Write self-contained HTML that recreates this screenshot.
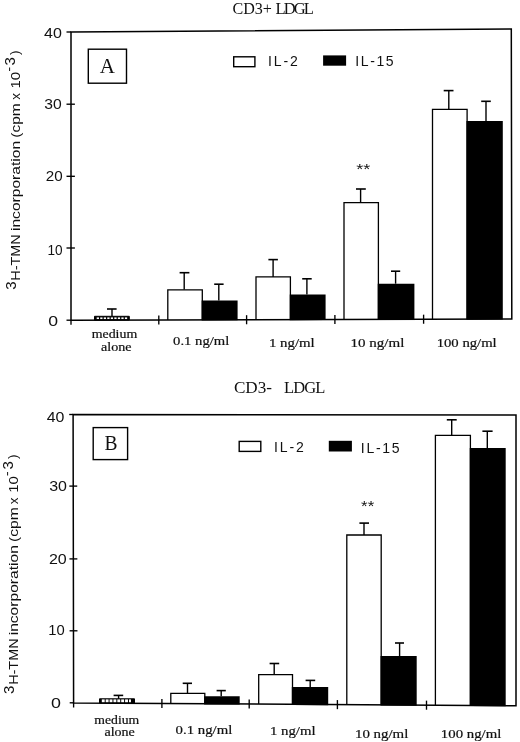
<!DOCTYPE html>
<html lang="en"><head><meta charset="utf-8"><title>CD3+ LDGL / CD3- LDGL</title>
<style>
html,body{margin:0;padding:0;background:#fff;}
svg{display:block;}
.sans{font-family:"Liberation Sans","DejaVu Sans",sans-serif;fill:#111;}
.serif{font-family:"Liberation Serif","DejaVu Serif",serif;fill:#111;}
</style></head>
<body>
<svg width="520" height="742" viewBox="0 0 520 742">
<rect width="520" height="742" fill="#fff"/>
<line x1="112" y1="309" x2="112" y2="316.3" stroke="#000" stroke-width="1.4" />
<line x1="107" y1="309" x2="116.6" y2="309" stroke="#000" stroke-width="1.6" />
<polygon points="94.5,316.3 129.3,316.3 129.3,320.0280626134301 94.5,320.13069419237746" fill="#000" stroke="#000" stroke-width="1"/>
<rect x="96.70" y="317.40" width="2.30" height="1.70" fill="#fff"/>
<rect x="100.22" y="317.40" width="2.30" height="1.70" fill="#fff"/>
<rect x="103.74" y="317.40" width="2.30" height="1.70" fill="#fff"/>
<rect x="107.26" y="317.40" width="2.30" height="1.70" fill="#fff"/>
<rect x="110.78" y="317.40" width="2.30" height="1.70" fill="#fff"/>
<rect x="114.30" y="317.40" width="2.30" height="1.70" fill="#fff"/>
<rect x="117.82" y="317.40" width="2.30" height="1.70" fill="#fff"/>
<rect x="121.34" y="317.40" width="2.30" height="1.70" fill="#fff"/>
<rect x="124.86" y="317.40" width="2.30" height="1.70" fill="#fff"/>
<line x1="184.2" y1="272.7" x2="184.2" y2="289.8" stroke="#000" stroke-width="1.4" />
<line x1="179.6" y1="272.7" x2="189.4" y2="272.7" stroke="#000" stroke-width="1.6" />
<polyline points="167.8,319.91 167.8,289.8 202.3,289.8 202.3,319.81" fill="#fff" stroke="#000" stroke-width="1.3" stroke-linejoin="miter"/>
<line x1="218.8" y1="284.2" x2="218.8" y2="300.4" stroke="#000" stroke-width="1.4" />
<line x1="214.2" y1="284.2" x2="223.6" y2="284.2" stroke="#000" stroke-width="1.6" />
<polygon points="201.65,320.46 201.65,300.4 237.6,300.4 237.6,320.36" fill="#000"/>
<line x1="273.1" y1="259.6" x2="273.1" y2="276.9" stroke="#000" stroke-width="1.4" />
<line x1="268.4" y1="259.6" x2="277.9" y2="259.6" stroke="#000" stroke-width="1.6" />
<polyline points="256,319.65 256,276.9 290.4,276.9 290.4,319.55" fill="#fff" stroke="#000" stroke-width="1.3" stroke-linejoin="miter"/>
<line x1="306.9" y1="278.8" x2="306.9" y2="294.6" stroke="#000" stroke-width="1.4" />
<line x1="302.2" y1="278.8" x2="311.7" y2="278.8" stroke="#000" stroke-width="1.6" />
<polygon points="289.75,320.20 289.75,294.6 325.6,294.6 325.6,320.10" fill="#000"/>
<line x1="360.6" y1="189" x2="360.6" y2="202.7" stroke="#000" stroke-width="1.4" />
<line x1="356" y1="189" x2="365.8" y2="189" stroke="#000" stroke-width="1.6" />
<polyline points="344,319.39 344,202.7 378.4,202.7 378.4,319.29" fill="#fff" stroke="#000" stroke-width="1.3" stroke-linejoin="miter"/>
<line x1="395.6" y1="271.2" x2="395.6" y2="283.7" stroke="#000" stroke-width="1.4" />
<line x1="391" y1="271.2" x2="400.2" y2="271.2" stroke="#000" stroke-width="1.6" />
<polygon points="377.75,319.94 377.75,283.7 414.4,283.7 414.4,319.84" fill="#000"/>
<line x1="448.8" y1="90.6" x2="448.8" y2="109.4" stroke="#000" stroke-width="1.4" />
<line x1="443.7" y1="90.6" x2="453.5" y2="90.6" stroke="#000" stroke-width="1.6" />
<polyline points="432.5,319.13 432.5,109.4 467.1,109.4 467.1,319.03" fill="#fff" stroke="#000" stroke-width="1.3" stroke-linejoin="miter"/>
<line x1="486" y1="101.3" x2="486" y2="121" stroke="#000" stroke-width="1.4" />
<line x1="481.2" y1="101.3" x2="490.8" y2="101.3" stroke="#000" stroke-width="1.6" />
<polygon points="466.45,319.68 466.45,121 502.8,121 502.8,319.58" fill="#000"/>
<polygon points="71,32 511.3,29.1 511.8,318.9 71,320.2" fill="none" stroke="#000" stroke-width="1.5"/>
<line x1="66.5" y1="32" x2="71.0" y2="32" stroke="#000" stroke-width="1.35" />
<line x1="66.5" y1="104.2" x2="74.9" y2="104.2" stroke="#000" stroke-width="1.35" />
<line x1="66.5" y1="176.3" x2="74.9" y2="176.3" stroke="#000" stroke-width="1.35" />
<line x1="66.5" y1="248.0" x2="74.9" y2="248.0" stroke="#000" stroke-width="1.35" />
<line x1="66.5" y1="320.2" x2="71.0" y2="320.2" stroke="#000" stroke-width="1.35" />
<line x1="158.8" y1="315.4410617059891" x2="158.8" y2="324.54106170598914" stroke="#000" stroke-width="1.35" />
<line x1="246.6" y1="315.1821234119782" x2="246.6" y2="324.2821234119782" stroke="#000" stroke-width="1.35" />
<line x1="334.9" y1="314.9217105263158" x2="334.9" y2="324.0217105263158" stroke="#000" stroke-width="1.35" />
<line x1="423.6" y1="314.6601179673321" x2="423.6" y2="323.7601179673321" stroke="#000" stroke-width="1.35" />
<line x1="71" y1="320.2" x2="71" y2="324.8" stroke="#000" stroke-width="1.35" />
<line x1="118.6" y1="695.4" x2="118.6" y2="698.8" stroke="#000" stroke-width="1.4" />
<line x1="113.6" y1="695.4" x2="123.2" y2="695.4" stroke="#000" stroke-width="1.6" />
<polygon points="99.5,698.8 134.5,698.8 134.5,703.2854430379747 99.5,703.0639240506329" fill="#000" stroke="#000" stroke-width="1"/>
<rect x="101.80" y="699.40" width="2.90" height="3.00" fill="#fff"/>
<rect x="105.68" y="699.40" width="2.90" height="3.00" fill="#fff"/>
<rect x="109.56" y="699.40" width="2.90" height="3.00" fill="#fff"/>
<rect x="113.44" y="699.40" width="2.90" height="3.00" fill="#fff"/>
<rect x="117.32" y="699.40" width="2.90" height="3.00" fill="#fff"/>
<rect x="121.20" y="699.40" width="2.90" height="3.00" fill="#fff"/>
<rect x="125.08" y="699.40" width="2.90" height="3.00" fill="#fff"/>
<rect x="128.96" y="699.40" width="2.00" height="3.00" fill="#fff"/>
<line x1="187.5" y1="683.3" x2="187.5" y2="693.3" stroke="#000" stroke-width="1.4" />
<line x1="182.7" y1="683.3" x2="192" y2="683.3" stroke="#000" stroke-width="1.6" />
<polyline points="170.8,703.52 170.8,693.3 204.8,693.3 204.8,703.73" fill="#fff" stroke="#000" stroke-width="1.3" stroke-linejoin="miter"/>
<line x1="221.2" y1="690.6" x2="221.2" y2="696.3" stroke="#000" stroke-width="1.4" />
<line x1="216.6" y1="690.6" x2="225.8" y2="690.6" stroke="#000" stroke-width="1.6" />
<polygon points="204.15,704.38 204.15,696.3 239.7,696.3 239.7,704.60" fill="#000"/>
<line x1="274.2" y1="663.5" x2="274.2" y2="674.6" stroke="#000" stroke-width="1.4" />
<line x1="269.6" y1="663.5" x2="279.2" y2="663.5" stroke="#000" stroke-width="1.6" />
<polyline points="258.7,704.07 258.7,674.6 292.5,674.6 292.5,704.29" fill="#fff" stroke="#000" stroke-width="1.3" stroke-linejoin="miter"/>
<line x1="310.2" y1="680.4" x2="310.2" y2="687.1" stroke="#000" stroke-width="1.4" />
<line x1="305.6" y1="680.4" x2="315.2" y2="680.4" stroke="#000" stroke-width="1.6" />
<polygon points="291.85,704.94 291.85,687.1 328.2,687.1 328.2,705.16" fill="#000"/>
<line x1="364" y1="523.1" x2="364" y2="535" stroke="#000" stroke-width="1.4" />
<line x1="359.4" y1="523.1" x2="369" y2="523.1" stroke="#000" stroke-width="1.6" />
<polyline points="346.8,704.63 346.8,535 381.2,535 381.2,704.85" fill="#fff" stroke="#000" stroke-width="1.3" stroke-linejoin="miter"/>
<line x1="399.6" y1="643" x2="399.6" y2="656" stroke="#000" stroke-width="1.4" />
<line x1="395" y1="643" x2="404" y2="643" stroke="#000" stroke-width="1.6" />
<polygon points="380.55,705.50 380.55,656 416.7,656 416.7,705.72" fill="#000"/>
<line x1="451.7" y1="419.8" x2="451.7" y2="435.3" stroke="#000" stroke-width="1.4" />
<line x1="446.8" y1="419.8" x2="456.7" y2="419.8" stroke="#000" stroke-width="1.6" />
<polyline points="435.4,705.19 435.4,435.3 470.4,435.3 470.4,705.41" fill="#fff" stroke="#000" stroke-width="1.3" stroke-linejoin="miter"/>
<line x1="487.3" y1="431.2" x2="487.3" y2="448.1" stroke="#000" stroke-width="1.4" />
<line x1="482.4" y1="431.2" x2="492.6" y2="431.2" stroke="#000" stroke-width="1.6" />
<polygon points="469.75,706.06 469.75,448.1 505.7,448.1 505.7,706.28" fill="#000"/>
<polygon points="73.1,414.4 516,415.1 516,705.7 73.6,702.9" fill="none" stroke="#000" stroke-width="1.5"/>
<line x1="69.2001733102253" y1="414.5" x2="73.1001733102253" y2="414.5" stroke="#000" stroke-width="1.35" />
<line x1="69.32426343154245" y1="486.1" x2="77.22426343154245" y2="486.1" stroke="#000" stroke-width="1.35" />
<line x1="69.45043327556324" y1="558.9" x2="77.35043327556325" y2="558.9" stroke="#000" stroke-width="1.35" />
<line x1="69.57504332755632" y1="630.8" x2="77.47504332755632" y2="630.8" stroke="#000" stroke-width="1.35" />
<line x1="69.69982668977468" y1="702.8" x2="73.59982668977469" y2="702.8" stroke="#000" stroke-width="1.35" />
<line x1="161.9" y1="698.9588607594936" x2="161.9" y2="708.0588607594937" stroke="#000" stroke-width="1.35" />
<line x1="249.2" y1="699.5113924050632" x2="249.2" y2="708.6113924050633" stroke="#000" stroke-width="1.35" />
<line x1="337.4" y1="700.0696202531645" x2="337.4" y2="709.1696202531646" stroke="#000" stroke-width="1.35" />
<line x1="426.5" y1="700.6335443037975" x2="426.5" y2="709.7335443037975" stroke="#000" stroke-width="1.35" />
<line x1="73.6" y1="702.9" x2="73.6" y2="707.5" stroke="#000" stroke-width="1.35" />
<rect x="88.3" y="49.2" width="38.2" height="34" fill="none" stroke="#000" stroke-width="1.4"/>
<rect x="93.2" y="427.6" width="34.4" height="32" fill="none" stroke="#000" stroke-width="1.4"/>
<rect x="233.7" y="56.8" width="21.2" height="9.9" fill="#fff" stroke="#000" stroke-width="1.4"/>
<rect x="323.1" y="55.4" width="23" height="10.3" fill="#000"/>
<rect x="239.2" y="441.4" width="21.6" height="10" fill="#fff" stroke="#000" stroke-width="1.4"/>
<rect x="328.8" y="440.8" width="23.1" height="10.7" fill="#000"/>
<text class="serif" font-size="16.5" x="232.44" y="13.80" textLength="39.49" lengthAdjust="spacingAndGlyphs">CD3+</text>
<text class="serif" font-size="16.5" x="275.49" y="13.80" textLength="38.28" lengthAdjust="spacing">LDGL</text>
<text class="serif" font-size="16.5" x="233.93" y="392.90" textLength="38.09" lengthAdjust="spacingAndGlyphs">CD3-</text>
<text class="serif" font-size="16.5" x="283.94" y="392.90" textLength="41.35" lengthAdjust="spacing">LDGL</text>
<text class="serif" font-size="21" x="99.66" y="72.60">A</text>
<text class="serif" font-size="21.5" x="104.45" y="450.10" textLength="13.02" lengthAdjust="spacingAndGlyphs">B</text>
<text class="sans" font-size="14" x="267.98" y="66.00" textLength="29.76" lengthAdjust="spacing">IL-2</text>
<text class="sans" font-size="14" x="355.33" y="66.00" textLength="38.34" lengthAdjust="spacing">IL-15</text>
<text class="sans" font-size="14" x="273.98" y="451.50" textLength="29.76" lengthAdjust="spacing">IL-2</text>
<text class="sans" font-size="14" x="360.82" y="452.90" textLength="38.83" lengthAdjust="spacing">IL-15</text>
<text class="sans" font-size="14.8" x="43.99" y="37.70" textLength="17.84" lengthAdjust="spacingAndGlyphs">40</text>
<text class="sans" font-size="14.8" x="44.38" y="109.40" textLength="17.44" lengthAdjust="spacingAndGlyphs">30</text>
<text class="sans" font-size="14.8" x="45.71" y="180.60" textLength="16.89" lengthAdjust="spacingAndGlyphs">20</text>
<text class="sans" font-size="14.8" x="47.57" y="254.60" textLength="15.12" lengthAdjust="spacingAndGlyphs">10</text>
<text class="sans" font-size="14.8" x="48.27" y="325.60" textLength="9.81" lengthAdjust="spacingAndGlyphs">0</text>
<text class="sans" font-size="14.8" x="46.72" y="421.70" textLength="17.72" lengthAdjust="spacingAndGlyphs">40</text>
<text class="sans" font-size="14.8" x="49.17" y="490.60" textLength="17.78" lengthAdjust="spacingAndGlyphs">30</text>
<text class="sans" font-size="14.8" x="48.96" y="564.30" textLength="17.81" lengthAdjust="spacingAndGlyphs">20</text>
<text class="sans" font-size="14.8" x="48.34" y="635.40" textLength="16.43" lengthAdjust="spacingAndGlyphs">10</text>
<text class="sans" font-size="14.8" x="51.03" y="707.60" textLength="9.94" lengthAdjust="spacingAndGlyphs">0</text>
<text class="serif" font-size="12" x="91.70" y="338.20" textLength="45.56" lengthAdjust="spacingAndGlyphs" stroke="#111" stroke-width="0.2">medium</text>
<text class="serif" font-size="12" x="101.12" y="350.80" textLength="30.46" lengthAdjust="spacingAndGlyphs" stroke="#111" stroke-width="0.2">alone</text>
<text class="serif" font-size="12.8" x="173.08" y="345.40" textLength="56.22" lengthAdjust="spacingAndGlyphs" stroke="#111" stroke-width="0.2">0.1 ng/ml</text>
<text class="serif" font-size="12.8" x="268.95" y="346.60" textLength="45.81" lengthAdjust="spacingAndGlyphs" stroke="#111" stroke-width="0.2">1 ng/ml</text>
<text class="serif" font-size="12.8" x="350.58" y="347.40" textLength="53.74" lengthAdjust="spacingAndGlyphs" stroke="#111" stroke-width="0.2">10 ng/ml</text>
<text class="serif" font-size="12.8" x="436.67" y="347.40" textLength="60.05" lengthAdjust="spacingAndGlyphs" stroke="#111" stroke-width="0.2">100 ng/ml</text>
<text class="serif" font-size="12" x="94.33" y="723.80" textLength="44.92" lengthAdjust="spacingAndGlyphs" stroke="#111" stroke-width="0.2">medium</text>
<text class="serif" font-size="12" x="104.44" y="736.00" textLength="30.40" lengthAdjust="spacingAndGlyphs" stroke="#111" stroke-width="0.2">alone</text>
<text class="serif" font-size="12.8" x="175.61" y="733.50" textLength="56.72" lengthAdjust="spacingAndGlyphs" stroke="#111" stroke-width="0.2">0.1 ng/ml</text>
<text class="serif" font-size="12.8" x="270.00" y="735.10" textLength="45.60" lengthAdjust="spacingAndGlyphs" stroke="#111" stroke-width="0.2">1 ng/ml</text>
<text class="serif" font-size="12.8" x="354.96" y="737.70" textLength="53.40" lengthAdjust="spacingAndGlyphs" stroke="#111" stroke-width="0.2">10 ng/ml</text>
<text class="serif" font-size="12.8" x="440.89" y="738.20" textLength="60.42" lengthAdjust="spacingAndGlyphs" stroke="#111" stroke-width="0.2">100 ng/ml</text>
<text class="sans" font-size="15" x="356.24" y="174.40" textLength="14.10" lengthAdjust="spacingAndGlyphs">**</text>
<text class="sans" font-size="15" x="361.10" y="511.30" textLength="13.13" lengthAdjust="spacingAndGlyphs">**</text>
<text class="sans" font-size="15" transform="translate(15.60,289.78) rotate(-90)">3</text>
<text class="sans" font-size="13.5" transform="translate(20.20,280.65) rotate(-90)" textLength="46.40" lengthAdjust="spacingAndGlyphs">H-TMN</text>
<text class="sans" font-size="13.5" transform="translate(20.20,231.05) rotate(-90)" textLength="90.19" lengthAdjust="spacingAndGlyphs">incorporation</text>
<text class="sans" font-size="13.5" transform="translate(20.20,137.72) rotate(-90)" textLength="34.47" lengthAdjust="spacingAndGlyphs">(cpm</text>
<text class="sans" font-size="13.5" transform="translate(20.20,99.78) rotate(-90)">x</text>
<text class="sans" font-size="13.5" transform="translate(20.20,88.49) rotate(-90)" textLength="16.66" lengthAdjust="spacingAndGlyphs">10</text>
<text class="sans" font-size="13.5" transform="translate(12.80,71.60) rotate(-90)">-</text>
<text class="sans" font-size="15" transform="translate(14.60,65.52) rotate(-90)">3</text>
<text class="sans" font-size="13.5" transform="translate(18.90,54.97) rotate(-90)">)</text>
<text class="sans" font-size="15" transform="translate(14.10,693.92) rotate(-90)">3</text>
<text class="sans" font-size="13.5" transform="translate(18.30,684.84) rotate(-90)" textLength="46.38" lengthAdjust="spacingAndGlyphs">H-TMN</text>
<text class="sans" font-size="13.5" transform="translate(18.30,635.32) rotate(-90)" textLength="90.20" lengthAdjust="spacingAndGlyphs">incorporation</text>
<text class="sans" font-size="13.5" transform="translate(18.30,542.02) rotate(-90)" textLength="34.72" lengthAdjust="spacingAndGlyphs">(cpm</text>
<text class="sans" font-size="13.5" transform="translate(18.30,504.14) rotate(-90)">x</text>
<text class="sans" font-size="13.5" transform="translate(18.30,492.69) rotate(-90)" textLength="16.64" lengthAdjust="spacingAndGlyphs">10</text>
<text class="sans" font-size="13.5" transform="translate(10.80,475.89) rotate(-90)">-</text>
<text class="sans" font-size="15" transform="translate(12.60,469.56) rotate(-90)">3</text>
<text class="sans" font-size="13.5" transform="translate(17.00,459.12) rotate(-90)">)</text>
</svg>
</body></html>
